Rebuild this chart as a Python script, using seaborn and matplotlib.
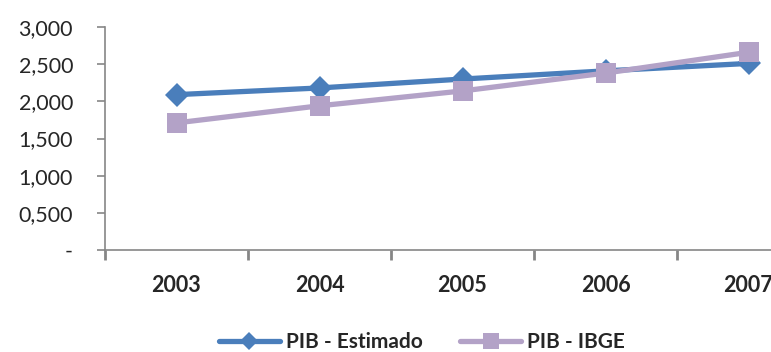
import numpy as np
import matplotlib
matplotlib.use("Agg")
import matplotlib.pyplot as plt
import seaborn as sns
import pandas as pd
from matplotlib.ticker import FixedLocator, FuncFormatter

sns.set_style("white")
plt.rcParams['font.family'] = ['Lato', 'DejaVu Sans']

anos = ["2003", "2004", "2005", "2006", "2007"]
pib_estimado = [2.09, 2.18, 2.30, 2.41, 2.51]
pib_ibge = [1.71, 1.94, 2.14, 2.38, 2.66]
series = ["PIB - Estimado", "PIB - IBGE"]

AZUL = "#4A7EBB"
LILAS = "#B3A2C7"
CINZA = "#868686"

df = pd.DataFrame({"Ano": anos, series[0]: pib_estimado, series[1]: pib_ibge})

fig = plt.figure(figsize=(7.71, 3.52), dpi=100)
# the plot area runs past the right edge, like the original
ax = fig.add_axes([105/771, 102/352, 715/771, 223/352])

sns.lineplot(data=df, x="Ano", y=series[0], ax=ax, color=AZUL, lw=3.8,
             marker="D", markersize=12, markeredgewidth=0, label=series[0], sort=False)
sns.lineplot(data=df, x="Ano", y=series[1], ax=ax, color=LILAS, lw=3.8,
             marker="s", markersize=15, markeredgewidth=0, label=series[1], sort=False)

ax.set_xlim(-0.5, len(anos) - 0.5)
ax.set_ylim(0, 3.0)
ax.set_xlabel("")
ax.set_ylabel("")

ax.set_yticks(np.arange(0, 3.01, 0.5))
ax.yaxis.set_major_formatter(FuncFormatter(
    lambda v, p: "-" if v == 0 else ("%.3f" % v).replace(".", ",")))
ax.tick_params(axis="y", direction="out", length=6, width=1.2, color=CINZA,
               labelsize=15.5, pad=17, left=True)

ax.xaxis.set_minor_locator(FixedLocator(np.arange(-0.5, len(anos), 1.0)))
ax.tick_params(axis="x", which="major", length=0, labelsize=15.5, pad=18)
ax.tick_params(axis="x", which="minor", direction="out", length=7, width=2,
               color=CINZA, bottom=True)
for t in ax.get_xticklabels():
    t.set_fontweight("bold")

for s in ["top", "right"]:
    ax.spines[s].set_visible(False)
for s in ["left", "bottom"]:
    ax.spines[s].set_color(CINZA)
    ax.spines[s].set_linewidth(1.2)

leg = ax.legend(loc="center", bbox_to_anchor=(422/771, 10/352),
                bbox_transform=fig.transFigure, ncol=2, frameon=False,
                handlelength=2.9, handletextpad=0.3, columnspacing=1.8,
                markerscale=0.75, prop={"size": 15, "weight": "bold"})

fig.savefig("out.png", dpi=100)
